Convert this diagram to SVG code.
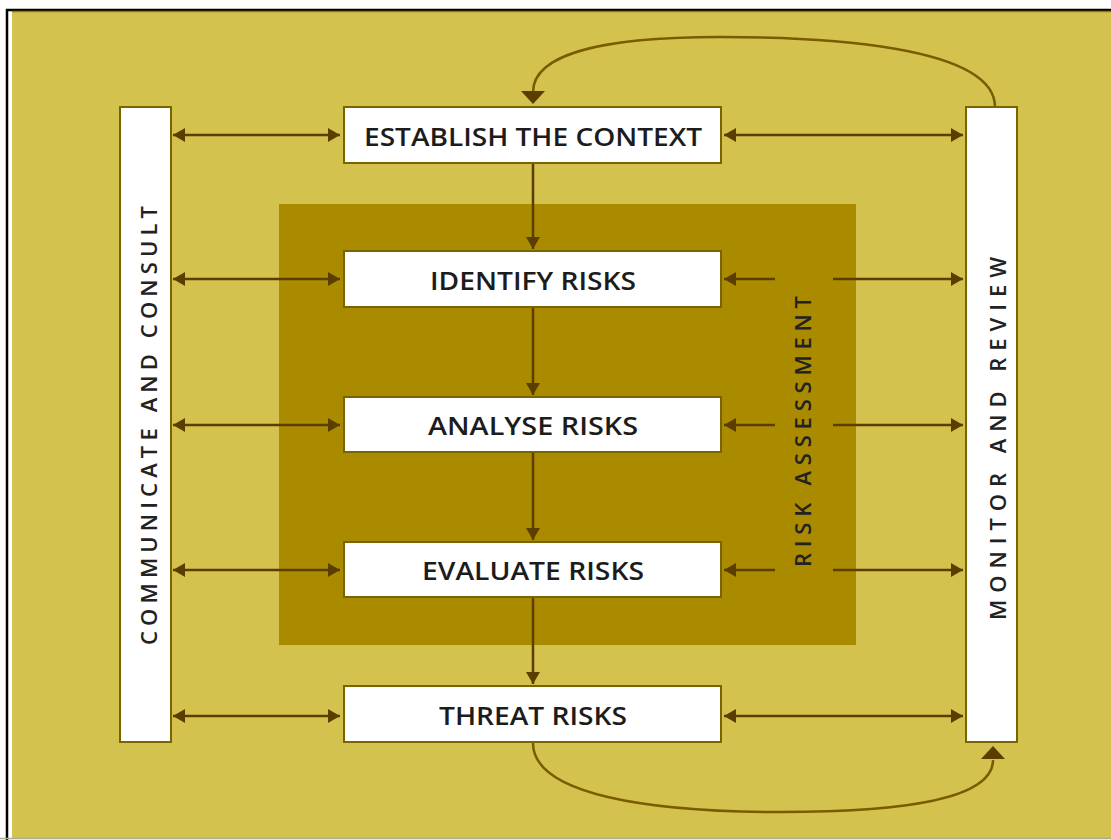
<svg xmlns="http://www.w3.org/2000/svg" width="1111" height="840" viewBox="0 0 1111 840">
<style>
.box{fill:#ffffff;stroke:#7a6400;stroke-width:2}
.lbl{font-family:"Open Sans",Lato,sans-serif;font-size:25px;font-weight:600;fill:#1c1c1c;text-anchor:middle;dominant-baseline:central}
.vlbl{font-family:"Open Sans",sans-serif;font-size:22px;font-weight:600;fill:#222;text-anchor:middle;dominant-baseline:central;letter-spacing:3px}
.ar{stroke:#5c3d00;stroke-width:2.5;fill:none}
.cv{stroke:#7a5c00;stroke-width:2.5;fill:none}
</style>
<defs>
<marker id="ah" viewBox="0 0 12 14" refX="12" refY="7" markerWidth="12" markerHeight="14" markerUnits="userSpaceOnUse" orient="auto-start-reverse">
<path d="M0,0 L12,7 L0,14 Z" fill="#5c3d00"/>
</marker>
</defs>
<rect x="0" y="0" width="1111" height="840" fill="#ffffff"/>
<rect x="12" y="11" width="1099" height="827" fill="#d4c24e"/>
<path d="M7,840 L7,10 L1111,10" stroke="#000" stroke-width="2.5" fill="none"/>
<line x1="12" y1="11.5" x2="1111" y2="11.5" stroke="#8a7a10" stroke-width="1.5"/>
<line x1="0" y1="838.5" x2="1111" y2="838.5" stroke="#b0a890" stroke-width="1.5"/>

<g id="risk-assessment">
<rect x="279" y="204" width="577" height="441" fill="#aa8b00"/>
<text class="vlbl" transform="translate(802,430) rotate(-90)" textLength="274">RISK ASSESSMENT</text>
</g>

<g id="connectors">
<line class="ar" x1="173" y1="135" x2="340" y2="135" marker-start="url(#ah)" marker-end="url(#ah)"/>
<line class="ar" x1="724" y1="135" x2="963" y2="135" marker-start="url(#ah)" marker-end="url(#ah)"/>
<line class="ar" x1="173" y1="279" x2="340" y2="279" marker-start="url(#ah)" marker-end="url(#ah)"/>
<line class="ar" x1="173" y1="425" x2="340" y2="425" marker-start="url(#ah)" marker-end="url(#ah)"/>
<line class="ar" x1="173" y1="570" x2="340" y2="570" marker-start="url(#ah)" marker-end="url(#ah)"/>
<line class="ar" x1="173" y1="716" x2="340" y2="716" marker-start="url(#ah)" marker-end="url(#ah)"/>
<line class="ar" x1="724" y1="716" x2="963" y2="716" marker-start="url(#ah)" marker-end="url(#ah)"/>
<line class="ar" x1="775" y1="279" x2="724" y2="279" marker-end="url(#ah)"/>
<line class="ar" x1="833" y1="279" x2="963" y2="279" marker-end="url(#ah)"/>
<line class="ar" x1="775" y1="425" x2="724" y2="425" marker-end="url(#ah)"/>
<line class="ar" x1="833" y1="425" x2="963" y2="425" marker-end="url(#ah)"/>
<line class="ar" x1="775" y1="570" x2="724" y2="570" marker-end="url(#ah)"/>
<line class="ar" x1="833" y1="570" x2="963" y2="570" marker-end="url(#ah)"/>
<line class="ar" x1="533" y1="164" x2="533" y2="249" marker-end="url(#ah)"/>
<line class="ar" x1="533" y1="308" x2="533" y2="395" marker-end="url(#ah)"/>
<line class="ar" x1="533" y1="453" x2="533" y2="540" marker-end="url(#ah)"/>
<line class="ar" x1="533" y1="598" x2="533" y2="684" marker-end="url(#ah)"/>
<path class="cv" d="M995,107 C995,45 820,37 720,37 C610,37 533,52 533,92"/>
<path d="M521,91 L545,91 L533,104 Z" fill="#5c3d00"/>
<path class="cv" d="M533,743 C533,795 650,812 780,812 C900,812 993,800 993,760"/>
<path d="M981,759 L1005,759 L993,746 Z" fill="#5c3d00"/>
</g>

<g id="communicate">
<rect class="box" x="120" y="107" width="51" height="635"/>
<text class="vlbl" transform="translate(148,424) rotate(-90)" textLength="442">COMMUNICATE AND CONSULT</text>
</g>
<g id="monitor">
<rect class="box" x="966" y="107" width="51" height="635"/>
<text class="vlbl" transform="translate(997,437) rotate(-90)" textLength="366">MONITOR AND REVIEW</text>
</g>
<g id="establish">
<rect class="box" x="344" y="107" width="377" height="56"/>
<text class="lbl" x="533" y="136" textLength="338" lengthAdjust="spacingAndGlyphs">ESTABLISH THE CONTEXT</text>
</g>
<g id="identify">
<rect class="box" x="344" y="251" width="377" height="56"/>
<text class="lbl" x="533" y="280" textLength="206" lengthAdjust="spacingAndGlyphs">IDENTIFY RISKS</text>
</g>
<g id="analyse">
<rect class="box" x="344" y="397" width="377" height="55"/>
<text class="lbl" x="533" y="425" textLength="210" lengthAdjust="spacingAndGlyphs">ANALYSE RISKS</text>
</g>
<g id="evaluate">
<rect class="box" x="344" y="542" width="377" height="55"/>
<text class="lbl" x="533" y="570" textLength="222" lengthAdjust="spacingAndGlyphs">EVALUATE RISKS</text>
</g>
<g id="threat">
<rect class="box" x="344" y="686" width="377" height="56"/>
<text class="lbl" x="533" y="715" textLength="188" lengthAdjust="spacingAndGlyphs">THREAT RISKS</text>
</g>
</svg>
